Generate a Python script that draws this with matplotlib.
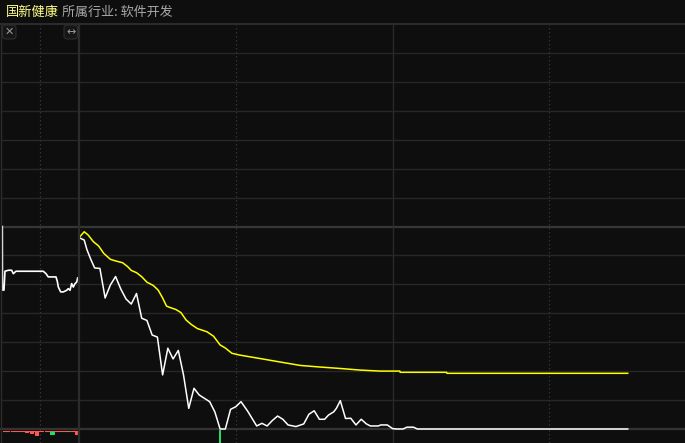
import matplotlib
matplotlib.use("Agg")
import matplotlib.pyplot as plt
from matplotlib.patches import FancyBboxPatch

plt.rcParams['font.family'] = ['Noto Sans CJK SC', 'DejaVu Sans']

# ---------------- data ----------------
stock_name = "国新健康"
industry_label = "所属行业: 软件开发"

# main session: minutes since 9:30 (lunch break removed), % change vs previous close
price_t = [0, 2, 3, 4.5, 6, 8, 10, 12, 14, 16, 18, 20, 22, 24, 26, 28, 30, 32, 34, 36,
           38, 40, 42, 44, 46, 50, 52, 54, 56, 58, 60, 62, 64.5, 68, 70, 72, 74, 76, 78,
           80, 83, 86, 88, 90, 92, 94, 95.5, 97.5, 98.5, 100, 102, 104, 106, 108, 110,
           111.5, 114.5, 115.5, 118, 120, 121.5, 124, 125.5, 128, 129.5, 210]
price_pct = [-0.55, -0.67, -1.13, -1.62, -2.05, -2.07, -3.53, -2.89, -2.47, -3.09, -3.58,
             -3.83, -3.31, -4.53, -4.64, -5.36, -5.46, -7.33, -6.01, -6.54, -6.12, -7.33,
             -8.98, -7.99, -8.32, -8.65, -9.16, -10.0, -10.0, -9.03, -8.90, -8.65, -9.11,
             -9.85, -9.72, -9.85, -9.58, -9.36, -9.52, -9.80, -9.88, -9.75, -9.27, -9.10,
             -9.52, -9.52, -9.31, -9.15, -8.98, -8.60, -9.48, -9.47, -9.80, -9.52, -9.75,
             -9.85, -9.85, -9.80, -9.80, -9.98, -10.0, -10.0, -9.91, -9.91, -10.0, -10.0]

avg_t = [0, 2, 3.5, 5.5, 7.5, 9.5, 12, 14, 16.7, 18.6, 20, 22, 24, 26, 28.4, 30.3, 32,
         33.5, 34.4, 37.1, 39, 41, 43, 45.3, 49, 51.5, 54, 56, 58.5, 61.5, 69.3, 76.9,
         84.6, 92.2, 99.9, 107.5, 115.2, 122.8, 122.9, 140.7, 140.8, 210]
avg_pct = [-0.55, -0.26, -0.42, -0.75, -0.96, -1.33, -1.62, -1.70, -1.79, -1.98, -2.17,
           -2.28, -2.48, -2.75, -2.91, -3.14, -3.53, -3.93, -3.98, -4.10, -4.25, -4.62,
           -4.84, -5.04, -5.20, -5.42, -5.85, -6.00, -6.26, -6.35, -6.52, -6.69, -6.86,
           -6.94, -7.01, -7.09, -7.14, -7.14, -7.20, -7.20, -7.25, -7.25]

# call auction: minutes since 9:15
auction_t = [0.17, 0.19, 0.38, 0.51, 0.94, 1.37, 1.58, 1.92, 5.42, 5.77, 6.06, 7.05,
             7.22, 7.35, 7.65, 7.99, 8.42, 8.63, 8.85, 9.06, 9.27, 9.49, 9.71, 9.83]
auction_pct = [0.0, -3.14, -3.14, -2.21, -2.16, -2.16, -2.33, -2.21, -2.21, -2.33, -2.49,
               -2.49, -2.71, -2.99, -3.23, -3.23, -3.15, -3.07, -3.15, -2.82, -2.99, -2.82,
               -2.74, -2.54]

# auction unmatched volume bars (relative), sign: 1 = red, -1 = green
auction_vol_t = [0.5, 1.5, 2.5, 3.3, 4.0, 4.6, 5.2, 5.9, 6.6, 7.3, 7.9, 8.6, 9.2, 9.8]
auction_vol_h = [1, 1, 1, 2.5, 3.5, 5, 1, 1, 4, 1.5, 1, 1, 1, 4]
auction_vol_dir = [1, 1, 1, 1, 1, 1, 1, 1, -1, -1, 1, -1, -1, 1]

# main volume: only the bar at the limit-down moment shows in view
vol_t = [54]
vol_h = [100]

# ---------------- layout ----------------
W, H = 685, 443
fig = plt.figure(figsize=(W / 100, H / 100), dpi=100)
fig.patch.set_facecolor('#0e0e0e')


def rect(x0, y0, x1, y1):
    return [x0 / W, 1 - y1 / H, (x1 - x0) / W, (y1 - y0) / H]


PX_PER_MIN = 2.613
main_xmax = (W - 79) / PX_PER_MIN

axv_left = fig.add_axes(rect(1, 429, 79, H))
axv_main = fig.add_axes(rect(79, 429, W, H))
ax_left = fig.add_axes(rect(1, 24, 79, 429))
ax_main = fig.add_axes(rect(79, 24, W, 429))
for a in (axv_left, axv_main):
    a.set_zorder(1)
for a in (ax_left, ax_main):
    a.set_zorder(2)

for a in (ax_left, ax_main, axv_left, axv_main):
    a.set_axis_off()
    a.patch.set_visible(True)
ax_left.set_facecolor('#111111')
axv_left.set_facecolor('#111111')
ax_main.set_facecolor('#0a0a0a')
axv_main.set_facecolor('#0a0a0a')

ax_left.set_xlim(0, 10)
axv_left.set_xlim(0, 10)
ax_main.set_xlim(0, main_xmax)
axv_main.set_xlim(0, main_xmax)
for a in (ax_left, ax_main):
    a.set_ylim(-10, 10)
axv_left.set_ylim(-14, 0)
axv_main.set_ylim(0, 14)

step = 10 / 7
grid_c = '#272727'
for a in (ax_left, ax_main):
    for k in range(1, 14):
        y = -10 + k * step
        if k == 7:
            a.axhline(y, color='#363636', lw=1.6, zorder=1)
        else:
            a.axhline(y, color=grid_c, lw=1.0, zorder=1)
    a.axhline(10, color='#2c2c2c', lw=1.4, zorder=1, clip_on=False)
    # price / volume separator
    a.axhline(-10, color='#333333', lw=1.6, zorder=2, clip_on=False)

# vertical lines
for a in (ax_main, axv_main):
    a.axvline(60, color='#333333', lw=0.9, ls=(0, (1.2, 2)), zorder=1)
    a.axvline(180, color='#333333', lw=0.9, ls=(0, (1.2, 2)), zorder=1)
    a.axvline(120, color='#2a2a2a', lw=1.0, zorder=1)
for a in (ax_left, axv_left):
    a.axvline(5, color='#333333', lw=0.9, ls=(0, (1.2, 2)), zorder=1)
# separators
fig.add_artist(plt.Line2D([79 / W, 79 / W], [0, 1 - 24 / H], color='#2c2c2c', lw=1.6,
                          zorder=5))
fig.add_artist(plt.Line2D([0.9 / W, 0.9 / W], [0, 1 - 24 / H], color='#2c2c2c', lw=1.0,
                          zorder=5))
fig.add_artist(plt.Line2D([0, 1], [1 - 24 / H, 1 - 24 / H], color='#2c2c2c', lw=1.2,
                          zorder=5))

# price and average lines
ax_main.plot(avg_t, avg_pct, color='#ffff00', lw=1.1, zorder=5, clip_on=False)
ax_main.plot(price_t, price_pct, color='#ffffff', lw=1.1, zorder=6, clip_on=False)
ax_left.plot(auction_t, auction_pct, color='#ffffff', lw=1.2, zorder=6, clip_on=False)

# volumes
base = -1.6
for t, h, d in zip(auction_vol_t, auction_vol_h, auction_vol_dir):
    c = '#ff5555' if d > 0 else '#22dd66'
    axv_left.bar(t, -h, width=0.55, bottom=base, color=c, zorder=4)
axv_left.axhline(base, color='#ff5555', lw=0.8, ls=(0, (6, 1.5)), zorder=4,
                 xmin=0.02, xmax=0.98)
axv_main.bar(vol_t, vol_h, width=0.5, color='#22dd66', zorder=4)

# header text
fig.text(6 / W, 1 - 12 / H, stock_name, color='#ffff88', fontsize=9.5, va='center',
         ha='left')
fig.text(62 / W, 1 - 12 / H, industry_label, color='#a8a8a8', fontsize=9.4, va='center',
         ha='left')

# small icon buttons
for x0, sym in ((2.5, '✕'), (64, '↔')):
    box = FancyBboxPatch((x0 / W, 1 - 39 / H), 13.5 / W, 14 / H,
                         boxstyle='round,pad=0,rounding_size=0.006',
                         transform=fig.transFigure, facecolor='#161616',
                         edgecolor='#2e2e2e', lw=0.8, zorder=10)
    fig.add_artist(box)
    fig.text((x0 + 6.75) / W, 1 - 32 / H, sym, color='#9a9a9a', fontsize=8,
             ha='center', va='center', family='DejaVu Sans', zorder=11)

fig.savefig('out.png', dpi=100, facecolor=fig.get_facecolor())
